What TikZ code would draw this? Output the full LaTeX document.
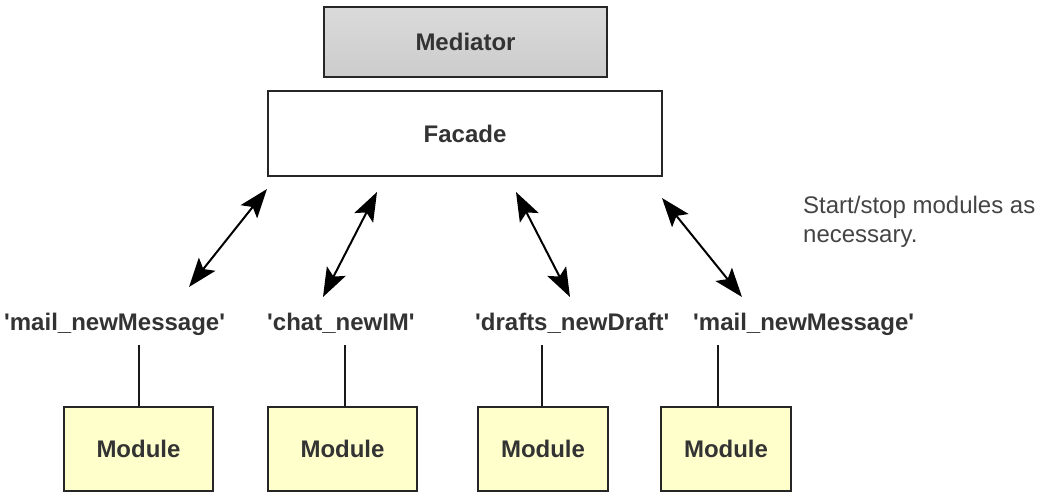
\documentclass[tikz,border=0pt]{standalone}
\usepackage{fontspec}
\setmainfont{Liberation Sans}
\usetikzlibrary{arrows.meta}
\definecolor{txt}{HTML}{333333}
\definecolor{note}{HTML}{444444}
\definecolor{medfill}{HTML}{CCCCCC}
\definecolor{medtop}{HTML}{DADADA}
\definecolor{modfill}{HTML}{FFFFCC}
\newcommand\sq{\textquotesingle}
\tikzset{
  box/.style={draw=black!85, line width=2pt, inner sep=0pt, font=\fontsize{24}{29}\selectfont\bfseries, text=txt},
  lbl/.style={inner sep=0pt, anchor=base west, font=\fontsize{24}{29}\selectfont\bfseries, text=txt},
  biarrow/.style={line width=2pt, {Stealth[length=29pt,width=21pt,inset=6pt]}-{Stealth[length=29pt,width=21pt,inset=6pt]}},
  vline/.style={line width=1.6pt, draw=black!90}
}
\begin{document}
\begin{tikzpicture}[x=1pt,y=-1pt]
\useasboundingbox (0,0) rectangle (1046,492);
\node[box, top color=medtop, bottom color=medfill, minimum width=283pt, minimum height=70pt] (med) at (465.5,42) {Mediator};
\node[box, fill=white, minimum width=394pt, minimum height=85pt] (fac) at (465,133.5) {Facade};
\node[box, fill=modfill, minimum width=149pt, minimum height=84pt] (m1) at (138.5,449) {Module};
\node[box, fill=modfill, minimum width=149pt, minimum height=84pt] (m2) at (342.5,449) {Module};
\node[box, fill=modfill, minimum width=130pt, minimum height=84pt] (m3) at (543,449) {Module};
\node[box, fill=modfill, minimum width=130pt, minimum height=84pt] (m4) at (726,449) {Module};
\node[lbl] (l1) at (4,330) {\sq mail\_newMessage\sq};
\node[lbl] (l2) at (267,330) {\sq chat\_newIM\sq};
\node[lbl] (l3) at (475,330) {\sq drafts\_newDraft\sq};
\node[lbl] (l4) at (693,330) {\sq mail\_newMessage\sq};
\node[inner sep=0pt, anchor=base west, align=left, text=note, font=\fontsize{24}{29}\selectfont] (nt) at (803,242) {Start/stop modules as\\necessary.};
% arrow end points
\coordinate (a1t) at (267,189); \coordinate (a1b) at (189,287);
\coordinate (a2t) at (377,192); \coordinate (a2b) at (323,297);
\coordinate (a3t) at (516,192); \coordinate (a3b) at (570,297);
\coordinate (a4t) at (662,198); \coordinate (a4b) at (742,297);
\draw[biarrow] (a1b) -- (a1t);
\draw[biarrow] (a2b) -- (a2t);
\draw[biarrow] (a3b) -- (a3t);
\draw[biarrow] (a4b) -- (a4t);
% vertical lines
\coordinate (lt) at (0,345);
\draw[vline] ([xshift=0.5pt]m1.north) -- ([xshift=0.5pt]m1.north |- lt);
\draw[vline] ([xshift=2.5pt]m2.north) -- ([xshift=2.5pt]m2.north |- lt);
\draw[vline] ([xshift=-1pt]m3.north) -- ([xshift=-1pt]m3.north |- lt);
\draw[vline] ([xshift=-8pt]m4.north) -- ([xshift=-8pt]m4.north |- lt);
\end{tikzpicture}
\end{document}
